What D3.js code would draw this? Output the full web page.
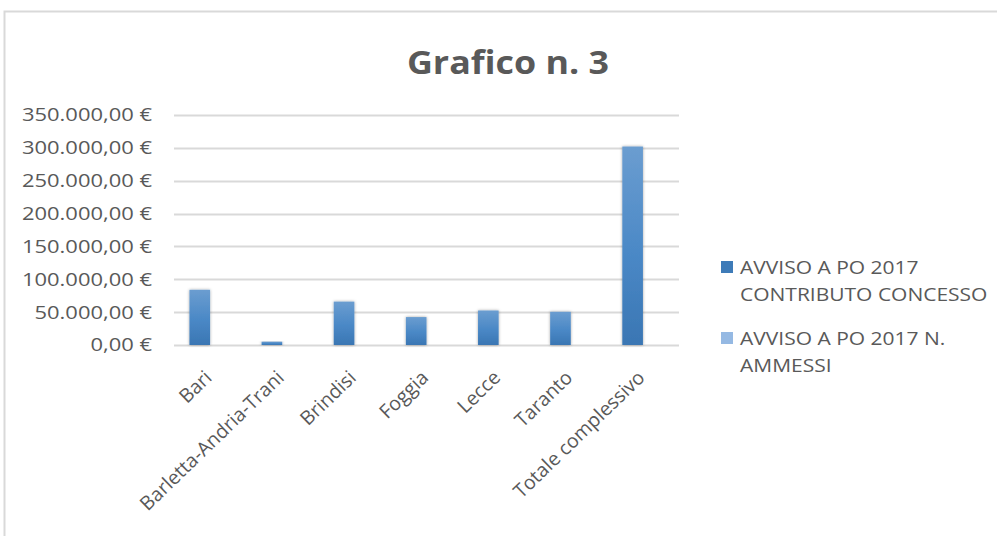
<!DOCTYPE html>
<html>
<head>
<meta charset="utf-8">
<script src="https://cdn.jsdelivr.net/npm/d3@7"></script>
<style>
    body { margin: 0; background: #fff; }
    text { font-family: "Open Sans", sans-serif; fill: #595959; }
</style>
</head>
<body>
<div id="chart"></div>
<script>
// Grafico n. 3 - contributo concesso per provincia

const categories = ['Bari', 'Barletta-Andria-Trani', 'Brindisi', 'Foggia', 'Lecce', 'Taranto', 'Totale complessivo'];
const seriesNames = ['AVVISO A PO 2017 CONTRIBUTO CONCESSO', 'AVVISO A PO 2017 N. AMMESSI'];
const contributo = [84000, 5000, 66000, 42500, 52500, 50500, 302000];
const ammessi = [7, 1, 6, 4, 5, 5, 28];
const yTicks = [0, 50000, 100000, 150000, 200000, 250000, 300000, 350000];
const legendLines = [['AVVISO A PO 2017', 'CONTRIBUTO CONCESSO'], ['AVVISO A PO 2017 N.', 'AMMESSI']];

const width = 997;
const height = 536;
const SX = 1.22; // text in the source is a bit wide

const svg = d3.select('#chart')
    .append('svg')
    .attr('width', width)
    .attr('height', height);

const defs = svg.append('defs');

const grad = defs.append('linearGradient')
    .attr('id', 'barGrad')
    .attr('x1', 0).attr('y1', 0).attr('x2', 0).attr('y2', 1);
grad.append('stop').attr('offset', '0%').attr('stop-color', '#6b9dd0');
grad.append('stop').attr('offset', '55%').attr('stop-color', '#4a88c6');
grad.append('stop').attr('offset', '100%').attr('stop-color', '#3a76b3');

const shadow = defs.append('filter')
    .attr('id', 'barShadow')
    .attr('x', '-50%').attr('y', '-10%').attr('width', '200%').attr('height', '120%');
shadow.append('feDropShadow')
    .attr('dx', 0).attr('dy', 0)
    .attr('stdDeviation', 1.6)
    .attr('flood-color', '#000')
    .attr('flood-opacity', 0.35);

// chart border
svg.append('rect')
    .attr('x', 4.5)
    .attr('y', 11.5)
    .attr('width', 1100)
    .attr('height', 600)
    .attr('fill', 'none')
    .attr('stroke', '#d9d9d9')
    .attr('stroke-width', 2);

// title
svg.append('text')
    .attr('transform', `translate(508, 74) scale(1.12,1)`)
    .attr('text-anchor', 'middle')
    .style('font-size', '32px')
    .style('font-weight', 'bold')
    .text('Grafico n. 3');

const x0 = d3.scaleBand()
    .domain(categories)
    .range([174, 679])
    .paddingInner(0)
    .paddingOuter(0);

const x1 = d3.scaleBand()
    .domain(seriesNames)
    .range([0, x0.bandwidth()])
    .paddingInner(0)
    .paddingOuter(0.75);

const y = d3.scaleLinear()
    .domain([0, 350000])
    .range([345, 115]);

const it = d3.formatLocale({ decimal: ',', thousands: '.', grouping: [3], currency: ['', ' €'] });
const fmt = it.format(',.2f');

// gridlines
svg.append('g')
    .selectAll('line')
    .data(yTicks)
    .enter()
    .append('line')
    .attr('x1', 174)
    .attr('x2', 679)
    .attr('y1', d => Math.round(y(d)) + 0.5)
    .attr('y2', d => Math.round(y(d)) + 0.5)
    .attr('stroke', '#d9d9d9')
    .attr('stroke-width', 2);

// y labels
svg.append('g')
    .selectAll('text')
    .data(yTicks)
    .enter()
    .append('text')
    .attr('transform', d => `translate(152, ${y(d)}) scale(${SX},1)`)
    .attr('dy', '0.36em')
    .attr('text-anchor', 'end')
    .style('font-size', '18px')
    .text(d => fmt(d) + ' €');

// bars
const rows = categories.map((c, i) => ({ cat: c, values: [contributo[i], ammessi[i]] }));
const colors = ['url(#barGrad)', '#9dc0e6'];

const groups = svg.append('g')
    .selectAll('g')
    .data(rows)
    .enter()
    .append('g')
    .attr('transform', d => `translate(${x0(d.cat)}, 0)`);

groups.selectAll('rect')
    .data(d => d.values.map((v, j) => ({ s: seriesNames[j], v: v, j: j })))
    .enter()
    .append('rect')
    .attr('x', d => x1(d.s))
    .attr('width', x1.bandwidth())
    .attr('y', d => y(d.v))
    .attr('height', d => y(0) - y(d.v))
    .attr('fill', d => colors[d.j])
    .attr('filter', d => d.j === 0 ? 'url(#barShadow)' : null);

// category labels
svg.append('g')
    .selectAll('text')
    .data(categories)
    .enter()
    .append('text')
    .attr('transform', d => `translate(${x0(d) + x0.bandwidth() / 2 + 3}, 379) rotate(-44)`)
    .attr('text-anchor', 'end')
    .style('font-size', '19.5px')
    .text(d => d);

// legend
const legendColors = ['#3e7bb8', '#95b9e3'];
const legend = svg.append('g')
    .selectAll('g')
    .data(legendLines)
    .enter()
    .append('g')
    .attr('transform', (d, i) => `translate(721, ${261 + i * 71})`);

legend.append('rect')
    .attr('width', 12)
    .attr('height', 12)
    .attr('fill', (d, i) => legendColors[i]);

legend.each(function(lines) {
    const g = d3.select(this);
    lines.forEach((line, k) => {
        g.append('text')
            .attr('transform', `translate(19, ${13 + k * 27}) scale(1.2,1)`)
            .style('font-size', '17.5px')
            .text(line);
    });
});
</script>
</body>
</html>
